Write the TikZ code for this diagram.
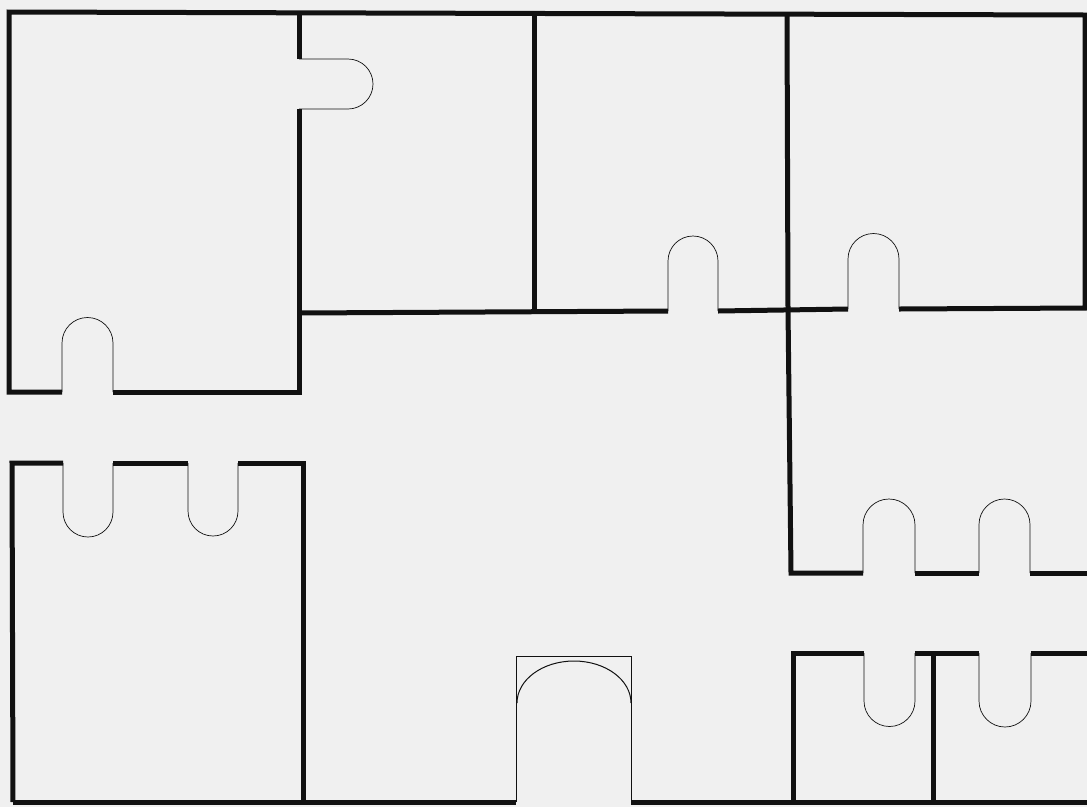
\documentclass[tikz,border=0pt]{standalone}
\usepackage{tikz}
\usetikzlibrary{calc}
\definecolor{karton}{HTML}{F0F0F0}
\definecolor{strich}{HTML}{111111}

\begin{document}
\begin{tikzpicture}[
        x=1pt, y=1pt,
        rand/.style={strich, line width=5pt, line join=miter},
        fuge/.style={strich, line width=0.7pt},
      ]
      \useasboundingbox (0,0) rectangle (1087,-807);
      \fill[karton] (0,0) rectangle (1087,-807);

      % obere Reihe: Aussenkante
      \draw[rand] (62,-392) -- (9,-392) -- (9,-12) -- (1085,-15)
        -- (1085,-308) -- (899,-309);

      % Teil links oben: Schlitz unten, Nase rechts
      \draw[fuge] (62,-392) -- (62,-343) arc[start angle=180, end angle=0, radius=25.5] -- (113,-392);
      \draw[rand] (113,-392) -- (299,-392) -- (299,-109);
      \draw[fuge] (299,-109) -- (348,-109) arc[start angle=-90, end angle=90, radius=25] -- (299,-59);
      \draw[rand] (299,-59) -- (299,-12);

      % Kante unter den Teilen oben Mitte
      \draw[rand] (299,-313) -- (668,-311);
      \draw[fuge] (668,-311) -- (668,-261) arc[start angle=180, end angle=0, radius=25] -- (718,-311);
      \draw[rand] (718,-311) -- (848,-309);
      \draw[fuge] (848,-309) -- (848,-259) arc[start angle=180, end angle=0, radius=25.5] -- (899,-309);
      \draw[rand] (534,-13) -- (534,-312);
      \draw[rand] (787,-14) -- (788,-309) -- (791,-573) -- (863,-573);

      % Teil rechts Mitte: zwei Schlitze
      \draw[fuge] (863,-573) -- (863,-525) arc[start angle=180, end angle=0, radius=26] -- (915,-573);
      \draw[rand] (915,-573) -- (979,-573);
      \draw[fuge] (979,-573) -- (979,-524.5) arc[start angle=180, end angle=0, radius=25.5] -- (1030,-573);
      \draw[rand] (1030,-573) -- (1087,-573);

      % Teile rechts unten: zwei Nasen
      \draw[rand] (793,-802) -- (793,-653) -- (864,-653);
      \draw[fuge] (864,-653) -- (864,-701) arc[start angle=180, end angle=360, radius=25.5] -- (915,-653);
      \draw[rand] (915,-653) -- (979,-653);
      \draw[fuge] (979,-653) -- (979,-701) arc[start angle=180, end angle=360, radius=26] -- (1031,-653);
      \draw[rand] (1031,-653) -- (1087,-653);
      \draw[rand] (933,-653) -- (933,-802);

      % Teil links unten: zwei Nasen
      \draw[rand] (303,-802) -- (303,-463) -- (238,-463);
      \draw[fuge] (238,-463) -- (238,-511) arc[start angle=0, end angle=-180, radius=25] -- (188,-463);
      \draw[rand] (188,-463) -- (113,-463);
      \draw[fuge] (113,-463) -- (113,-512) arc[start angle=0, end angle=-180, radius=25] -- (63,-463);
      \draw[rand] (63,-463) -- (12,-463) -- (13,-802);

      % Unterkante mit Bogenfeld
      \draw[rand] (13,-802) -- (516,-802);
      \draw[fuge] (516,-802) -- (516,-656) -- (631,-656) -- (631,-802);
      \draw[fuge, line width=1pt] (517,-703) arc[start angle=180, end angle=0, x radius=57, y radius=42];
      \draw[rand] (631,-802) -- (1087,-802);
    \end{tikzpicture}
\end{document}
